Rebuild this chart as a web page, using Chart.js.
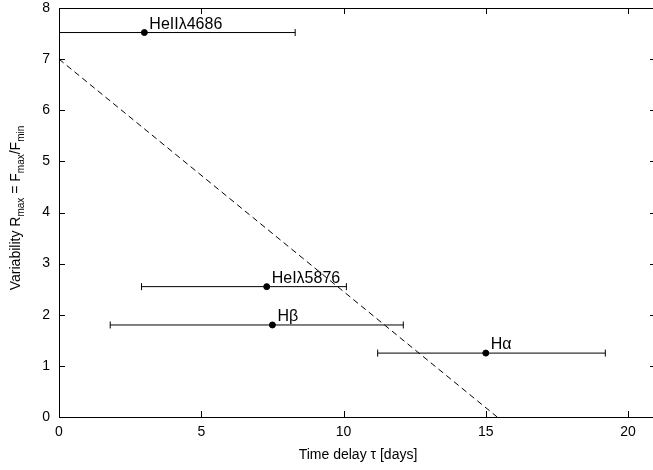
<!DOCTYPE html>
<html>
<head>
<meta charset="utf-8">
<script src="https://cdn.jsdelivr.net/npm/chart.js@4/dist/chart.umd.min.js"></script>
<style>
	body { margin: 0; background: #fff; }
	canvas { display: block; }
</style>
</head>
<body>
<canvas id="lagplot" width="653" height="470"></canvas>
<script>
const lineNames = ['HeIIλ4686', 'HeIλ5876', 'Hβ', 'Hα']; // Emission lines
const lagValues = [3.0, 7.3, 7.5, 15.0]; // Time delay tau (days)
const lagLow = [-2.3, 2.9, 1.8, 11.2]; // Lower end of lag error bar
const lagHigh = [8.3, 10.1, 12.1, 19.2]; // Upper end of lag error bar
const variability = [7.52, 2.55, 1.80, 1.25]; // Rmax = Fmax/Fmin
const fitX = [0, 15.4]; // Dashed trend line, x ends
const fitY = [7.0, 0]; // Dashed trend line, y ends
const xTickValues = [0, 5, 10, 15, 20];
const yTickValues = [0, 1, 2, 3, 4, 5, 6, 7, 8];
const fontFamily = 'Liberation Sans';
Chart.defaults.font.family = fontFamily;

// Build datasets: one line per error bar (with end caps), the points, and the fit line
let dataSets = [];
for (let i = 0; i < lineNames.length; i++) {
	dataSets.push({
		showLine: true,
		borderColor: '#000',
		borderWidth: 1,
		pointStyle: 'line',
		rotation: 90,
		pointRadius: 3.5,
		pointBorderColor: '#000',
		pointBorderWidth: 1,
		data: [{x: lagLow[i], y: variability[i]}, {x: lagHigh[i], y: variability[i]}]
	});
}
dataSets.push({
	showLine: false,
	pointRadius: 3,
	pointBackgroundColor: '#000',
	pointBorderColor: '#000',
	data: lagValues.map((lag, i) => ({x: lag, y: variability[i]}))
});
dataSets.push({
	showLine: true,
	borderColor: '#000',
	borderWidth: 1,
	borderDash: [6, 4],
	pointRadius: 0,
	data: fitX.map((fx, i) => ({x: fx, y: fitY[i]}))
});

// Frame top, inward ticks, line labels and axis titles
const extrasPlugin = {
	id: 'extras',
	afterDraw(chart) {
		const ctx = chart.ctx;
		const a = chart.chartArea;
		const xs = chart.scales.x, ys = chart.scales.y;
		const w = chart.width;
		ctx.save();
		ctx.strokeStyle = '#000';
		ctx.lineWidth = 1;
		ctx.beginPath();
		// top and bottom frame run on to the page edge
		ctx.moveTo(a.left, a.top + 0.5);
		ctx.lineTo(w, a.top + 0.5);
		ctx.moveTo(a.right, a.bottom + 0.5);
		ctx.lineTo(w, a.bottom + 0.5);
		xTickValues.forEach(v => {
			let px = Math.round(xs.getPixelForValue(v)) + 0.5;
			ctx.moveTo(px, a.bottom);
			ctx.lineTo(px, a.bottom - 6);
			ctx.moveTo(px, a.top);
			ctx.lineTo(px, a.top + 6);
		});
		yTickValues.forEach(v => {
			let py = Math.round(ys.getPixelForValue(v)) + 0.5;
			ctx.moveTo(a.left, py);
			ctx.lineTo(a.left + 6, py);
			ctx.moveTo(w, py);
			ctx.lineTo(w - 3, py);
		});
		ctx.stroke();

		// Line labels next to each point
		ctx.fillStyle = '#000';
		ctx.font = '16px "' + fontFamily + '"';
		ctx.textAlign = 'left';
		ctx.textBaseline = 'alphabetic';
		lineNames.forEach((name, i) => {
			ctx.fillText(name, xs.getPixelForValue(lagValues[i]) + 5, ys.getPixelForValue(variability[i]) - 4);
		});

		// x-axis title
		ctx.font = '14px "' + fontFamily + '"';
		ctx.textAlign = 'center';
		ctx.textBaseline = 'middle';
		ctx.fillText('Time delay τ [days]', 358, 455);

		// y-axis title with subscripts
		const parts = [['Variability R', false], ['max', true], [' = F', false], ['max', true], ['/F', false], ['min', true]];
		const mainFont = '14px "' + fontFamily + '"', subFont = '10px "' + fontFamily + '"';
		let total = 0;
		parts.forEach(p => {
			ctx.font = p[1] ? subFont : mainFont;
			total += ctx.measureText(p[0]).width;
		});
		ctx.translate(20, 208);
		ctx.rotate(-Math.PI / 2);
		ctx.textAlign = 'left';
		ctx.textBaseline = 'alphabetic';
		let pos = -total / 2;
		parts.forEach(p => {
			ctx.font = p[1] ? subFont : mainFont;
			ctx.fillText(p[0], pos, p[1] ? 4 : 0);
			pos += ctx.measureText(p[0]).width;
		});
		ctx.restore();
	}
};

var lagplot = new Chart('lagplot', {
	type: 'scatter',
	data: {
		datasets: dataSets
	},
	plugins: [extrasPlugin],
	options: {
		responsive: false,
		animation: false,
		devicePixelRatio: 1,
		layout: {
			padding: {top: 8, right: 0, left: 0, bottom: 0}
		},
		plugins: {
			legend: { display: false },
			tooltip: { enabled: false }
		},
		scales: {
			x: {
				type: 'linear',
				min: 0,
				max: 20.7,
				afterFit: scale => {
					scale.height = 53;
					scale.paddingLeft = 0;
					scale.paddingRight = 0;
				},
				afterBuildTicks: scale => { scale.ticks = xTickValues.map(v => ({value: v})); },
				ticks: {
					color: '#000',
					font: {size: 14},
					padding: 7,
					maxRotation: 0
				},
				grid: { display: false, drawTicks: false },
				border: { display: true, color: '#000', width: 1 }
			},
			y: {
				min: 0,
				max: 8,
				afterFit: scale => {
					scale.width = 59;
					scale.paddingTop = 0;
					scale.paddingBottom = 0;
				},
				afterBuildTicks: scale => { scale.ticks = yTickValues.map(v => ({value: v})); },
				ticks: {
					color: '#000',
					font: {size: 14},
					padding: 9
				},
				grid: { display: false, drawTicks: false },
				border: { display: true, color: '#000', width: 1 }
			}
		}
	}
});
</script>
</body>
</html>
